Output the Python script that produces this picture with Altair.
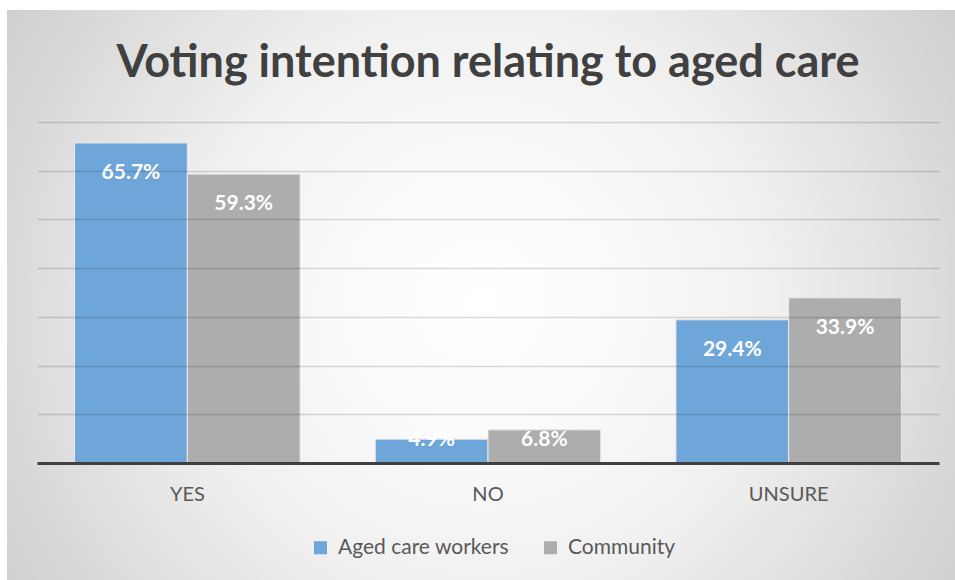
import altair as alt
import pandas as pd

# Survey answers and the share of each group giving them (percent)
categories = ["YES", "NO", "UNSURE"]
series = ["Aged care workers", "Community"]
aged_care_workers = [65.7, 4.9, 29.4]
community = [59.3, 6.8, 33.9]

rows = []
for i, cat in enumerate(categories):
    rows.append({"answer": cat, "group": series[0], "pct": aged_care_workers[i]})
    rows.append({"answer": cat, "group": series[1], "pct": community[i]})
df = pd.DataFrame(rows)

FONT = "Lato"
TEXT_GREY = "#595959"

x_enc = alt.X(
    "answer:N",
    sort=categories,
    title=None,
    scale=alt.Scale(paddingInner=0.25, paddingOuter=0.125),
    axis=alt.Axis(
        domainColor="#404040",
        domainWidth=3,
        ticks=False,
        labelAngle=0,
        labelFont=FONT,
        labelFontSize=20,
        labelColor=TEXT_GREY,
        labelPadding=21,
        zindex=2,
    ),
)
x_off = alt.XOffset("group:N", sort=series)
color_enc = alt.Color(
    "group:N",
    sort=series,
    scale=alt.Scale(domain=series, range=["#6FA6D9", "#ADADAD"]),
    legend=alt.Legend(
        title=None,
        orient="none",
        direction="horizontal",
        legendX=273,
        legendY=415,
        symbolType="square",
        symbolSize=169,
        symbolStrokeWidth=0,
        labelFont=FONT,
        labelFontSize=21,
        labelColor=TEXT_GREY,
        labelOffset=7,
        labelLimit=400,
        columnPadding=30,
        zindex=2,
    ),
)
y_scale = alt.Scale(domain=[0, 70], nice=False)

# Soft radial backdrop behind the whole chart; the rect runs past the
# bottom of the page so the glow fades more slowly up and down
backdrop = (
    alt.Chart(pd.DataFrame({"k": [0]}))
    .mark_rect(
        color=alt.Gradient(
            gradient="radial",
            stops=[
                alt.GradientStop(color="#FFFFFF", offset=0),
                alt.GradientStop(color="#FAFAFA", offset=0.12),
                alt.GradientStop(color="#F0F0F0", offset=0.25),
                alt.GradientStop(color="#D3D3D3", offset=0.45),
                alt.GradientStop(color="#C4C4C4", offset=0.58),
                alt.GradientStop(color="#A8A8A8", offset=1),
            ],
            x1=0.5, y1=0.25, x2=0.5, y2=0.25, r1=0, r2=1,
        )
    )
    .encode(
        x=alt.value(-30), x2=alt.value(918),
        y=alt.value(-112), y2=alt.value(1058),
    )
)

bars = (
    alt.Chart(df)
    .mark_bar(stroke="#EAEAEA", strokeWidth=1)
    .encode(
        x=x_enc,
        xOffset=x_off,
        y=alt.Y(
            "pct:Q",
            scale=y_scale,
            title=None,
            axis=alt.Axis(
                values=[10, 20, 30, 40, 50, 60, 70],
                labels=False,
                ticks=False,
                domain=False,
                grid=True,
                gridColor="#000000",
                gridOpacity=0.14,
                gridWidth=1.5,
                zindex=1,
            ),
        ),
        color=color_enc,
    )
)

# Value labels sit just inside the top of each bar, kept clear of the baseline
labels = (
    alt.Chart(df)
    .transform_calculate(
        label="format(datum.pct, '.1f') + '%'",
        label_pos="max(datum.pct - 6.2, 4.8)",
    )
    .mark_text(font=FONT, fontWeight="bold", fontSize=21, color="white", baseline="middle")
    .encode(
        x=alt.X("answer:N", sort=categories),
        xOffset=x_off,
        y=alt.Y("label_pos:Q", scale=y_scale),
        text="label:N",
    )
)

chart = (
    alt.layer(backdrop, bars, labels)
    .properties(
        width=902,
        height=341,
        autosize=alt.AutoSizeParams(type="none"),
        padding={"left": 37, "top": 122, "right": 16, "bottom": 117},
        background="white",
        title=alt.TitleParams(
            "Voting intention relating to aged care",
            font=FONT,
            fontSize=45,
            fontWeight="bold",
            color="#404040",
            anchor="middle",
            offset=34,
            dy=110,
            zindex=2,
        ),
    )
    .configure_view(stroke=None)
)

chart.save("out.html", embed_options={"renderer": "svg", "actions": False})
